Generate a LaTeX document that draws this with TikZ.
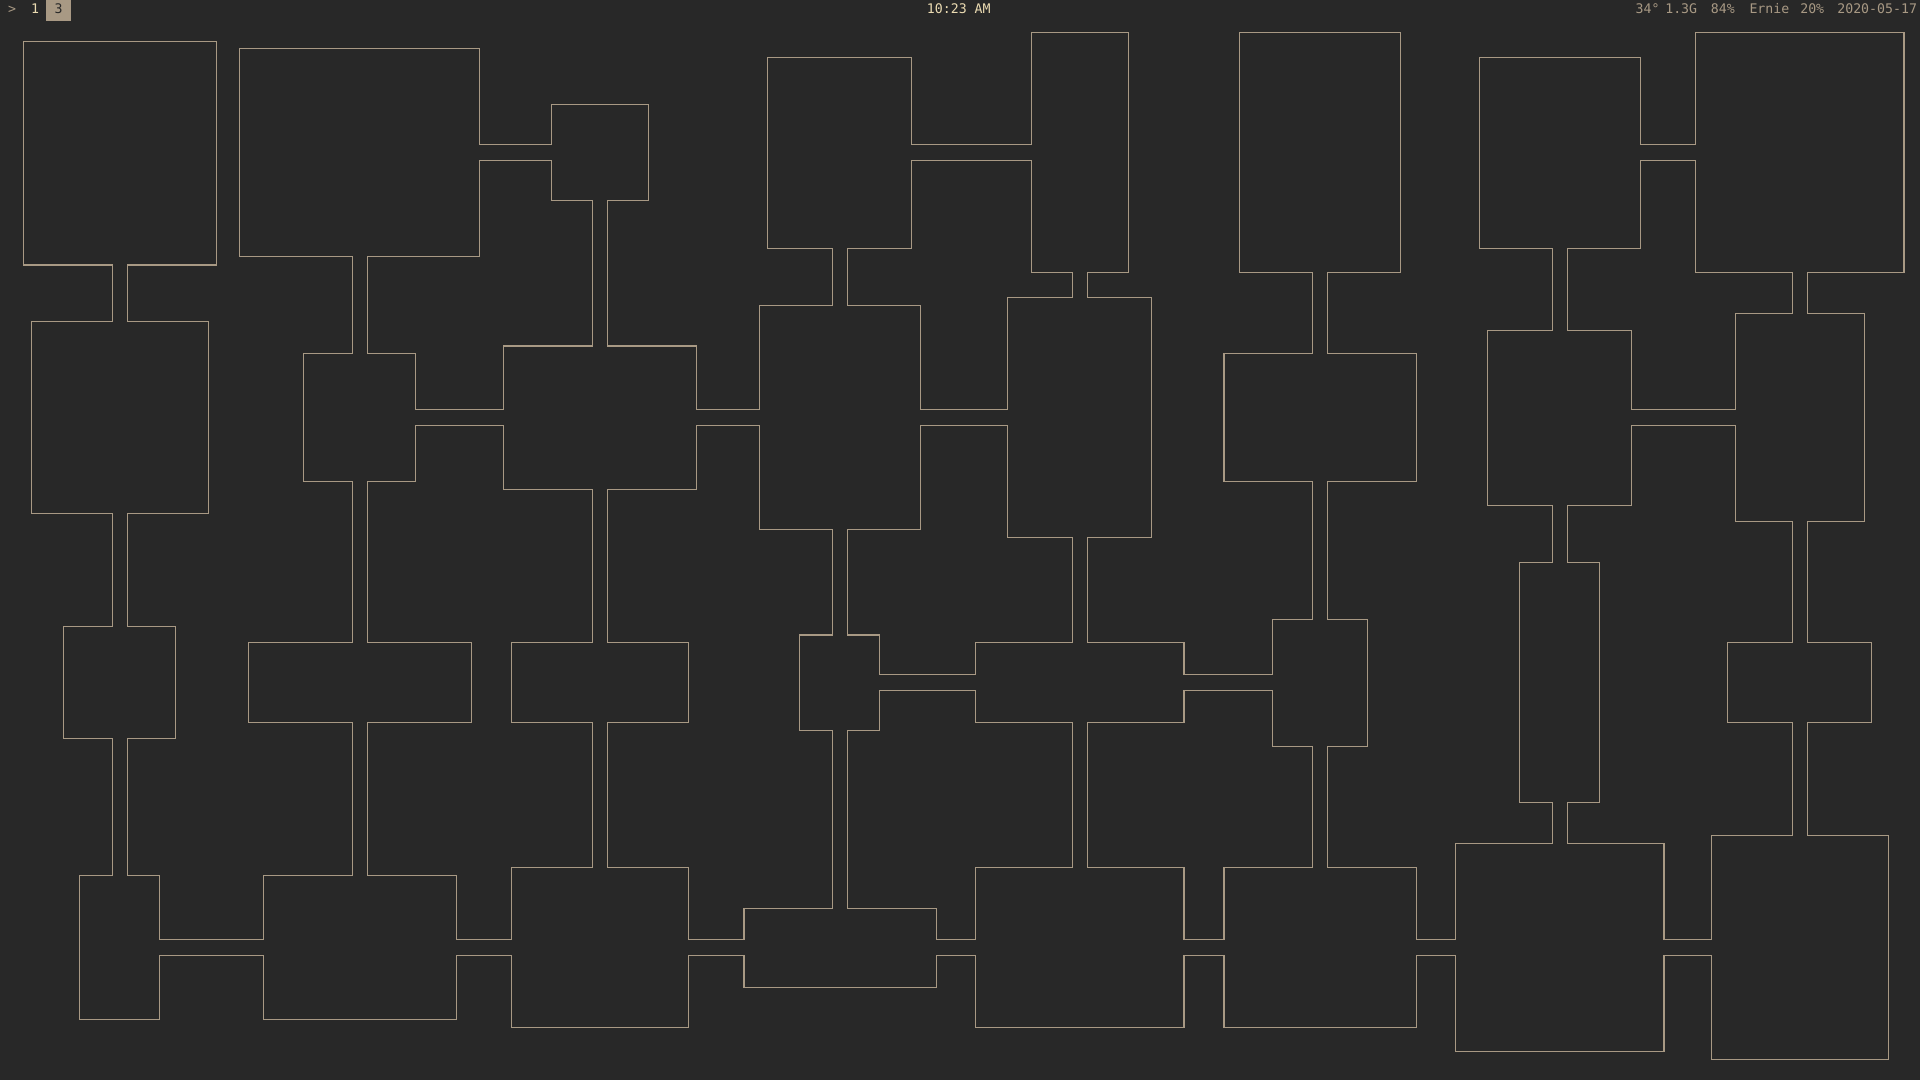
\documentclass[tikz,border=0pt]{standalone}
\usepackage{fontspec}
\setmonofont{DejaVu Sans Mono}
\definecolor{bgc}{HTML}{282828}
\definecolor{linec}{HTML}{A89984}
\definecolor{fgc}{HTML}{EBDBB2}
\begin{document}
\begin{tikzpicture}[x=0.5pt,y=-0.5pt,
  bartext/.style={font=\ttfamily\fontsize{5.4}{6}\selectfont, inner sep=0pt, anchor=base, text=linec},
  wall/.style={draw=linec, line width=0.85pt},
  floorfill/.style={fill=bgc}
]
\fill[bgc] (0,0) rectangle (1568,882);
\useasboundingbox (0,0) rectangle (1568,882);
% rooms and corridors: x1/y1/x2/y2
\def\plan{%
20/34/176/216, 26/263/170/419, 52.5/512/143/603, 65.5/715.5/130/832.5,
216/715.5/372/832.5, 418/709/561.5/839, 608/742/764/806, 797/709/966.5/839,
1000/709/1156/839, 1189/689.5/1358.5/858.5, 1398/683/1541.5/865,
196/40/391.5/209, 451/86/529/163.5, 248.5/289.5/339/393, 412/283/568/399.5,
621/250/751/432, 627.5/47/744/202.5, 843/27/921/222.5, 823.5/243.5/940/438.5,
653.5/519/718/596.5, 797/525.5/966.5/590, 1039.5/506/1116.5/609.5,
1000/289.5/1156/393, 1013/27/1143/222.5, 1209/47/1339/202.5,
1385/27/1554.5/222.5, 1215.5/270/1332/412.5, 1418/256.5/1522/425.5,
1241.5/460/1306/655, 1411.5/525.5/1528/590, 203/525.5/385/590,
418/525.5/561.5/590,
92/216/104/263, 92/419/104/512, 92/603/104/715.5,
130/768/216/780, 372/768/418/780, 561.5/768/608/780, 764/768/797/780,
966.5/768/1000/780, 1156/768/1189/780, 1358.5/768/1398/780,
391.5/118.5/451/130.5, 288/209/300/289.5, 484/163.5/496/283,
339/335/412/347, 288/393/300/525.5, 288/590/300/715.5,
484/399.5/496/525.5, 484/590/496/709, 568/335/621/347,
680/202.5/692/250, 744/118.5/843/130.5, 876/222.5/888/243.5,
751/335/823.5/347, 680/432/692/519, 876/438.5/888/525.5,
718/551.5/797/563.5, 680/596.5/692/742, 876/590/888/709,
966.5/551.5/1039.5/563.5, 1072/393/1084/506, 1072/222.5/1084/289.5,
1072/609.5/1084/709, 1339/118.5/1385/130.5, 1268/202.5/1280/270,
1464/222.5/1476/256.5, 1332/335/1418/347, 1268/412.5/1280/460,
1268/655/1280/689.5, 1464/425.5/1476/525.5, 1464/590/1476/683}
\foreach \xa/\ya/\xb/\yb in \plan { \draw[wall] (\xa,\ya) rectangle (\xb,\yb); }
\foreach \xa/\ya/\xb/\yb in \plan { \fill[floorfill] (\xa,\ya) rectangle (\xb,\yb); }
% top bar
\fill[linec] (37.6,0) rectangle (58,17.1);
\node[bartext] (prompt) at (9.8,11.4) {>};
\node[bartext, text=fgc] (ws1) at (28.6,11.4) {1};
\node[bartext, text=bgc] (ws3) at (47.8,11.4) {3};
\node[bartext, text=fgc] (clock) at (783,11.4) {10:23 AM};
\node[bartext] (temp) at (1345.5,11.4) {34°};
\node[bartext] (mem) at (1373,11.4) {1.3G};
\node[bartext] (bat) at (1407,11.4) {84\%};
\node[bartext] (host) at (1445,11.4) {Ernie};
\node[bartext] (vol) at (1480,11.4) {20\%};
\node[bartext] (date) at (1533,11.4) {2020-05-17};
\end{tikzpicture}
\end{document}
